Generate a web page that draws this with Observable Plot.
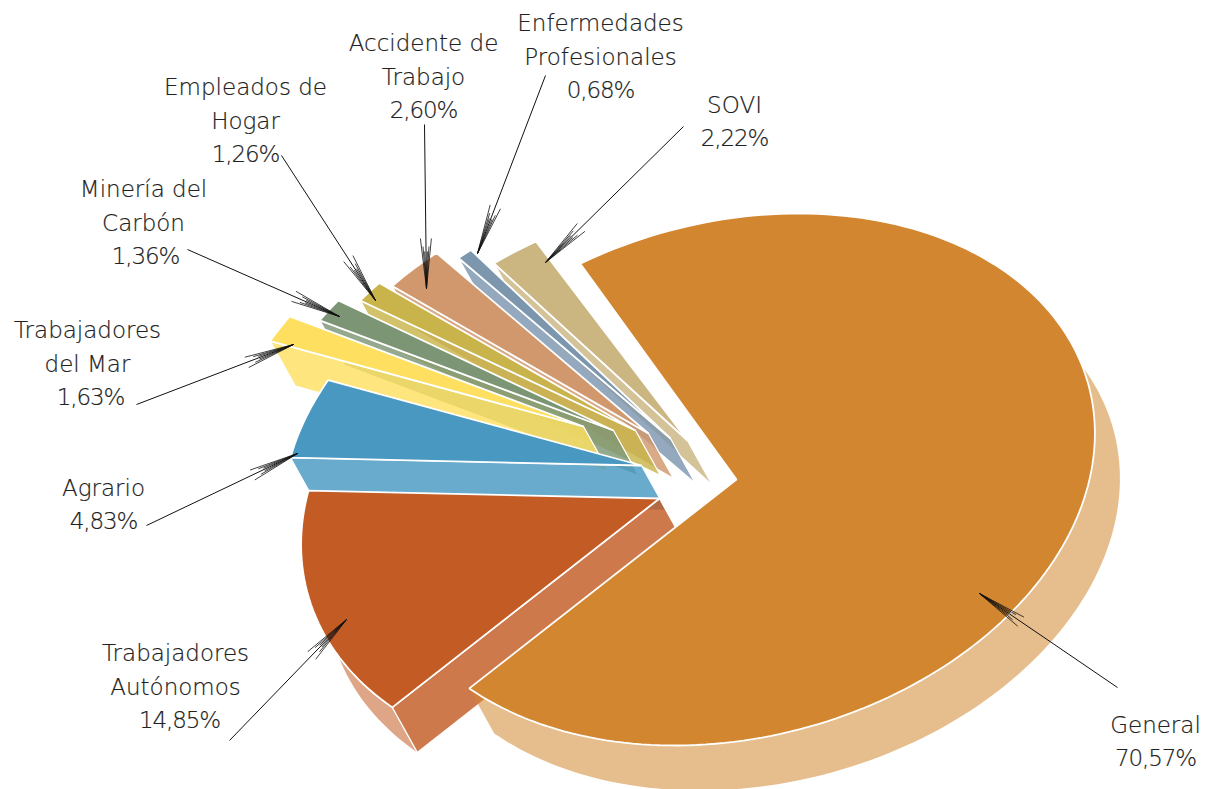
<!DOCTYPE html>
<html>
<head>
<meta charset="utf-8">
<style>html,body{margin:0;padding:0;background:#fff;overflow:hidden}svg{display:block}
.pct text,text.pct{letter-spacing:-1.1px}</style>
<script src="https://cdn.jsdelivr.net/npm/d3@7"></script>
<script src="https://cdn.jsdelivr.net/npm/@observablehq/plot@0.6"></script>
</head>
<body>
<div id="chart"></div>
<script>
// ---- data ----
const categories = ["General","Trabajadores\nAutónomos","Agrario","Trabajadores\ndel Mar","Minería del\nCarbón","Empleados de\nHogar","Accidente de\nTrabajo","Enfermedades\nProfesionales","SOVI"];
const shares = [70.57,14.85,4.83,1.63,1.36,1.26,2.60,0.68,2.22];

// ---- styles ----
const colors = ["#D2862F","#C25B24","#4898C2","#FEDF60","#7C9675","#C8B44A","#D1976D","#7C96AE","#CBB682"];

// ---- layout of the exploded pie (where each wedge's point sits) ----
const apexX = [736,659,641,583,613,635,648,670,687];
const apexY = [479,498,465,426,430,430,433,438,440];
const radiusY = [266,266,261,261,261,261,261,261,253];
const radiusScale = [1,1,1,1,1,1,1,1,0.97];
const labelX = [1155,175,103,87,143,245,423,600,734];
const valueX = [1155,179,103,90,145,245,423,600,734];
const valueY = [757,719,520,396,255,153,109,89,137];
const leadStartX = [1117,229,146,136,187,281,424,545,683];
const leadStartY = [687,740,525,404,249,155,124,75,126];
const leadTipX = [979,346,297,293,339,375,426,477,545];
const leadTipY = [593,619,453,344,316,300,288,253,262];
const startAngle = 125.8, radiusA = 353, radiusB = 62, depthX = 25, depthY = 45;
const bandSkip = [40, 0];
const lineStep = 33.5, baselineDrop = 8.5;
const barbs = [[50,5.5],[50,-5.5],[42,3],[42,-3],[37,1.4],[37,-1.4]];

// ---- geometry from the shares ----
const rad = Math.PI / 180;
const total = d3.sum(shares);
const rim = (i, t) => ({
  x: apexX[i] + radiusScale[i] * (radiusA * Math.cos(t * rad) + radiusB * Math.sin(t * rad)),
  y: apexY[i] - radiusScale[i] * radiusY[i] * Math.sin(t * rad)
});
const shift = p => ({x: p.x + depthX, y: p.y + depthY});
let cum = 0;
const wedges = shares.map((s, i) => {
  const a0 = startAngle - 360 * cum / total;
  cum += s;
  const a1 = startAngle - 360 * cum / total;
  const n = Math.max(4, Math.ceil((a0 - a1) / 1.5));
  const arc = d3.range(n + 1).map(k => rim(i, a0 + (a1 - a0) * k / n));
  const apex = {x: apexX[i], y: apexY[i]};
  const skip = Math.round((bandSkip[i] || 0) / ((a0 - a1) / n));
  const bandArc = arc.slice(skip);
  return {
    i,
    top: [apex, ...arc],
    band: [...bandArc, ...bandArc.slice().reverse().map(shift)],
    side: [arc[0], shift(arc[0]), shift(apex), apex]
  };
});
const poly = (pts, o) => Plot.line(pts, {x: "x", y: "y", curve: "linear-closed", stroke: "white", strokeLinejoin: "miter", ...o});

const wedgeMarks = [];
wedges.slice().reverse().forEach(w => {
  const c = colors[w.i];
  if (w.i < bandSkip.length) wedgeMarks.push(poly(w.band, {fill: c, fillOpacity: 0.55, stroke: "none"}));
  if (w.i !== 0) wedgeMarks.push(poly(w.side, {fill: c, fillOpacity: 0.82, strokeWidth: 1.3}));
  wedgeMarks.push(poly(w.top, {fill: c, strokeWidth: 1.8}));
});

// ---- leaders ----
const leaders = shares.map((_, i) => ({x1: leadStartX[i], y1: leadStartY[i], x2: leadTipX[i], y2: leadTipY[i]}));
const barbLinks = leaders.flatMap(l => {
  const dx = l.x1 - l.x2, dy = l.y1 - l.y2, h = Math.hypot(dx, dy);
  const ux = dx / h, uy = dy / h;
  return barbs.map(([len, off]) => ({
    x1: l.x2 + ux * len - uy * off, y1: l.y2 + uy * len + ux * off, x2: l.x2, y2: l.y2
  }));
});

// ---- labels ----
const names = categories.map((c, i) => ({x: labelX[i], y: valueY[i] - lineStep + baselineDrop, text: c}));
const values = shares.map((s, i) => ({x: valueX[i], y: valueY[i] + baselineDrop, text: s.toFixed(2).replace(".", ",") + "%"}));
const textStyle = {x: "x", y: "y", text: "text", fontFamily: "DejaVu Sans", fontWeight: 200, fontSize: 23, lineHeight: lineStep / 23, fill: "#222", textAnchor: "middle", lineAnchor: "bottom", stroke: "#222", strokeWidth: 0.2};

const chart = Plot.plot({
  width: 1211, height: 789,
  margin: 0,
  style: {background: "white"},
  x: {domain: [0, 1211], range: [0, 1211], axis: null},
  y: {domain: [0, 789], range: [0, 789], axis: null},
  marks: [
    ...wedgeMarks,
    Plot.link(leaders, {x1: "x1", y1: "y1", x2: "x2", y2: "y2", stroke: "#111", strokeWidth: 1}),
    Plot.link(barbLinks, {x1: "x1", y1: "y1", x2: "x2", y2: "y2", stroke: "#111", strokeWidth: 0.8}),
    Plot.text(names, textStyle),
    Plot.text(values, {...textStyle, className: "pct"})
  ]
});
document.getElementById("chart").appendChild(chart);
</script>
</body>
</html>
